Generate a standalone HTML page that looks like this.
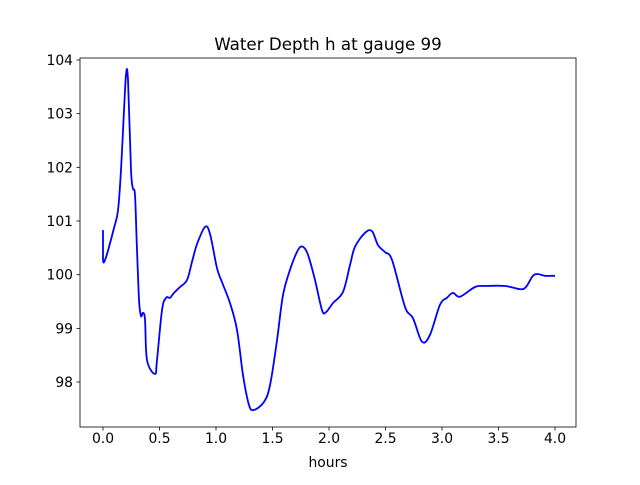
<!DOCTYPE html>
<html><head><meta charset="utf-8"><style>
body{margin:0;background:#fff}
svg text{font-family:"DejaVu Sans","Liberation Sans",sans-serif;font-size:13.9px;fill:#000}
</style></head><body>
<svg id="chart" width="640" height="480" xmlns="http://www.w3.org/2000/svg">
<rect width="640" height="480" fill="#fff"/>
<text x="328" y="50" text-anchor="middle" style="font-size:16.7px">Water Depth h at gauge 99</text>
<g id="axes"></g>
<path id="series" fill="none" stroke="#0000ff" stroke-width="1.8" stroke-linejoin="round"/>
<rect x="80" y="58" width="496" height="369" fill="none" stroke="#000" stroke-width="0.8"/>
<text x="328" y="467" text-anchor="middle">hours</text>
</svg>
<script>
const hours=[0,0,0.027,0.097,0.133,0.159,0.186,0.204,0.221,0.248,0.265,0.283,0.301,0.319,0.336,0.354,0.372,0.389,0.46,0.478,0.522,0.558,0.593,0.628,0.681,0.743,0.788,0.832,0.903,0.947,1.009,1.053,1.124,1.186,1.239,1.292,1.336,1.425,1.478,1.54,1.593,1.655,1.726,1.77,1.814,1.876,1.938,1.973,2.035,2.124,2.186,2.23,2.319,2.381,2.434,2.496,2.558,2.673,2.743,2.823,2.894,2.982,3.044,3.097,3.159,3.292,3.381,3.558,3.69,3.743,3.805,3.85,3.912,4.0];
const depth=[100.83,100.27,100.33,100.87,101.2,101.95,103.07,103.74,103.63,101.95,101.61,101.48,100.46,99.53,99.23,99.29,99.16,98.41,98.15,98.41,99.34,99.57,99.57,99.66,99.77,99.9,100.24,100.57,100.89,100.76,100.12,99.86,99.47,98.97,98.13,97.57,97.48,97.63,97.94,98.78,99.62,100.09,100.46,100.52,100.37,99.9,99.34,99.3,99.47,99.68,100.18,100.52,100.78,100.81,100.55,100.42,100.27,99.4,99.19,98.75,98.88,99.44,99.57,99.66,99.59,99.77,99.79,99.79,99.73,99.77,99.98,100.01,99.98,99.98];
const xTicks=[0,0.5,1,1.5,2,2.5,3,3.5,4];
const xTickLabels=["0.0","0.5","1.0","1.5","2.0","2.5","3.0","3.5","4.0"];
const yTicks=[98,99,100,101,102,103,104];
const yTickLabels=["98","99","100","101","102","103","104"];
const sx=v=>103+v*113, sy=v=>60+(104-v)*53.67;
const ns="http://www.w3.org/2000/svg", g=document.getElementById('axes');
function mk(t,a){const e=document.createElementNS(ns,t);for(const k in a)e.setAttribute(k,a[k]);g.appendChild(e);return e;}
xTicks.forEach((v,i)=>{
 const l=mk('line',{x1:sx(v),x2:sx(v),y1:427,y2:430.5,stroke:'#000','stroke-width':0.8});
 
 
 const t=mk('text',{x:sx(v),y:443,'text-anchor':'middle'});t.textContent=xTickLabels[i];
 
 
});
yTicks.forEach((v,i)=>{
 const l=mk('line',{x1:76.5,x2:80,y1:sy(v),y2:sy(v),stroke:'#000','stroke-width':0.8});
 
 
 const t=mk('text',{x:73,y:sy(v)+5,'text-anchor':'end'});t.textContent=yTickLabels[i];
 
 
});
// Catmull-Rom smoothing through data points
const P=hours.map((h,i)=>[sx(h),sy(depth[i])]);
let d='M'+P[0][0].toFixed(1)+','+P[0][1].toFixed(1);
for(let i=0;i<P.length-1;i++){
 const p0=P[Math.max(0,i-1)],p1=P[i],p2=P[i+1],p3=P[Math.min(P.length-1,i+2)];
 const c1=[p1[0]+(p2[0]-p0[0])/6,p1[1]+(p2[1]-p0[1])/6];
 const c2=[p2[0]-(p3[0]-p1[0])/6,p2[1]-(p3[1]-p1[1])/6];
 if(i===0){d+=' L'+p2[0].toFixed(1)+','+p2[1].toFixed(1);continue;}
 d+=' C'+c1[0].toFixed(1)+','+c1[1].toFixed(1)+' '+c2[0].toFixed(1)+','+c2[1].toFixed(1)+' '+p2[0].toFixed(1)+','+p2[1].toFixed(1);
}
document.getElementById('series').setAttribute('d',d);
</script>
</body></html>
